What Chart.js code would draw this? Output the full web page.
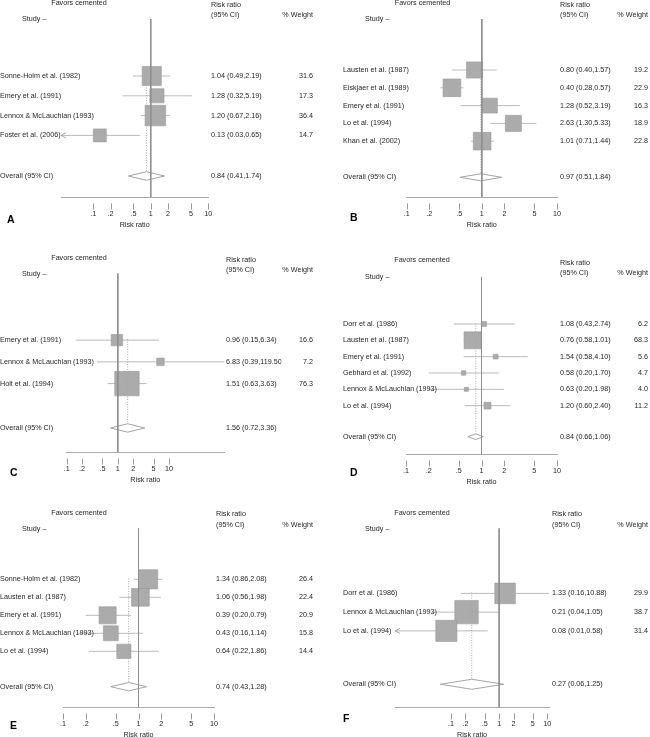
<!DOCTYPE html>
<html>
<head>
<meta charset="utf-8">
<script src="https://cdn.jsdelivr.net/npm/chart.js@4.4.0/dist/chart.umd.min.js"></script>
<style>
  body { margin: 0; background: #fff; width: 650px; height: 737px; position: relative; overflow: hidden; }
  canvas { position: absolute; }
</style>
</head>
<body>
<script>
// ---- data ----
var tickValues = [0.1, 0.2, 0.5, 1, 2, 5, 10];
var tickLabels = [".1", ".2", ".5", "1", "2", "5", "10"];

var studiesA = ["Sonne-Holm et al. (1982)", "Emery et al. (1991)", "Lennox & McLauchlan (1993)", "Foster et al. (2006)"];
var rrA = [1.04, 1.28, 1.20, 0.13];
var lowA = [0.49, 0.32, 0.67, 0.03];
var highA = [2.19, 5.19, 2.16, 0.65];
var weightA = [31.6, 17.3, 36.4, 14.7];
var overallA = [0.84, 0.41, 1.74];

var studiesB = ["Lausten et al. (1987)", "Eiskjaer et al. (1989)", "Emery et al. (1991)", "Lo et al. (1994)", "Khan et al. (2002)"];
var rrB = [0.80, 0.40, 1.28, 2.63, 1.01];
var lowB = [0.40, 0.28, 0.52, 1.30, 0.71];
var highB = [1.57, 0.57, 3.19, 5.33, 1.44];
var weightB = [19.2, 22.9, 16.3, 18.9, 22.8];
var overallB = [0.97, 0.51, 1.84];

var studiesC = ["Emery et al. (1991)", "Lennox & McLauchlan (1993)", "Holt et al. (1994)"];
var rrC = [0.96, 6.83, 1.51];
var lowC = [0.15, 0.39, 0.63];
var highC = [6.34, 119.5, 3.63];
var weightC = [16.6, 7.2, 76.3];
var overallC = [1.56, 0.72, 3.36];

var studiesD = ["Dorr et al. (1986)", "Lausten et al. (1987)", "Emery et al. (1991)", "Gebhard et al. (1992)", "Lennox & McLauchlan (1993)", "Lo et al. (1994)"];
var rrD = [1.08, 0.76, 1.54, 0.58, 0.63, 1.20];
var lowD = [0.43, 0.58, 0.58, 0.20, 0.20, 0.60];
var highD = [2.74, 1.01, 4.10, 1.70, 1.98, 2.40];
var weightD = [6.2, 68.3, 5.6, 4.7, 4.0, 11.2];
var overallD = [0.84, 0.66, 1.06];

var studiesE = ["Sonne-Holm et al. (1982)", "Lausten et al. (1987)", "Emery et al. (1991)", "Lennox & McLauchlan (1993)", "Lo et al. (1994)"];
var rrE = [1.34, 1.06, 0.39, 0.43, 0.64];
var lowE = [0.86, 0.56, 0.20, 0.16, 0.22];
var highE = [2.08, 1.98, 0.79, 1.14, 1.86];
var weightE = [26.4, 22.4, 20.9, 15.8, 14.4];
var overallE = [0.74, 0.43, 1.28];

var studiesF = ["Dorr et al. (1986)", "Lennox & McLauchlan (1993)", "Lo et al. (1994)"];
var rrF = [1.33, 0.21, 0.08];
var lowF = [0.16, 0.04, 0.01];
var highF = [10.88, 1.05, 0.58];
var weightF = [29.9, 38.7, 31.4];
var overallF = [0.27, 0.06, 1.25];

// ---- layout of the six panels (page pixels) ----
var panels = [
  { letter: "A", left: 0, top: 0, names: studiesA, rr: rrA, lo: lowA, hi: highA, w: weightA, overall: overallA,
    xMin: 0.0275, xMax: 10, axisL: 61, axisR: 208.3, lineTop: 19, axisY: 197, row0: 76, rowGap: 19.8, overallY: 176,
    boxK: 3.4, diaH: 4.3, arrows: [3], nameX: 0, headX: 79, studyX: 22, ciX: 211, wtR: 313,
    favY: 3.5, studyY: 19, rrY: 5, ciY: 15, letterX: 7, letterY: 220 },
  { letter: "B", left: 325, top: 0, names: studiesB, rr: rrB, lo: lowB, hi: highB, w: weightB, overall: overallB,
    xMin: 0.1, xMax: 10, axisL: 81.7, axisR: 232, lineTop: 19, axisY: 197, row0: 70, rowGap: 17.8, overallY: 177.3,
    boxK: 3.7, diaH: 3.5, arrows: [], nameX: 343, headX: 422.5, studyX: 365, ciX: 560, wtR: 648,
    favY: 3.5, studyY: 19, rrY: 5, ciY: 15, letterX: 350, letterY: 218 },
  { letter: "C", left: 0, top: 240, names: studiesC, rr: rrC, lo: lowC, hi: highC, w: weightC, overall: overallC,
    xMin: 0.1, xMax: 119.5, axisL: 66.7, axisR: 224, lineTop: 273.3, axisY: 451.7, row0: 340, rowGap: 21.7, overallY: 427.7,
    boxK: 2.8, diaH: 4.2, arrows: [], nameX: 0, headX: 79, studyX: 22, ciX: 226, wtR: 313,
    favY: 258, studyY: 274, rrY: 260, ciY: 269.7, letterX: 10, letterY: 473 },
  { letter: "D", left: 325, top: 240, names: studiesD, rr: rrD, lo: lowD, hi: highD, w: weightD, overall: overallD,
    xMin: 0.1, xMax: 10, axisL: 81, axisR: 232, lineTop: 276.7, axisY: 454, row0: 324, rowGap: 16.33, overallY: 436.7,
    boxK: 2.05, diaH: 2.8, arrows: [], nameX: 343, headX: 422, studyX: 365, ciX: 560, wtR: 648,
    favY: 260, studyY: 277, rrY: 262.7, ciY: 273, letterX: 350, letterY: 473 },
  { letter: "E", left: 0, top: 480, names: studiesE, rr: rrE, lo: lowE, hi: highE, w: weightE, overall: overallE,
    xMin: 0.1, xMax: 10, axisL: 63, axisR: 214, lineTop: 528.3, axisY: 707, row0: 579.3, rowGap: 18, overallY: 686.7,
    boxK: 3.75, diaH: 4.2, arrows: [], nameX: 0, headX: 79, studyX: 22, ciX: 216, wtR: 313,
    favY: 513, studyY: 529, rrY: 514.3, ciY: 524.7, letterX: 10, letterY: 726 },
  { letter: "F", left: 325, top: 480, names: studiesF, rr: rrF, lo: lowF, hi: highF, w: weightF, overall: overallF,
    xMin: 0.00685, xMax: 10.88, axisL: 70, axisR: 224, lineTop: 528.3, axisY: 706.7, row0: 593.3, rowGap: 18.7, overallY: 684,
    boxK: 3.77, diaH: 5, arrows: [2], nameX: 343, headX: 422, studyX: 365, ciX: 552, wtR: 648,
    favY: 513, studyY: 529, rrY: 514.3, ciY: 524.7, letterX: 343, letterY: 719 }
];

var FONT = "'Liberation Sans', Arial, Helvetica, sans-serif";
var TEXT = '#1e1e1e';
Chart.defaults.font.family = FONT;
Chart.defaults.font.size = 7.2;
Chart.defaults.color = TEXT;

function ciText(r, l, h) {
  return r.toFixed(2) + " (" + l.toFixed(2) + "," + h.toFixed(2) + ")";
}

function drawPanel(p) {
  var canvas = document.createElement('canvas');
  canvas.width = 325;
  canvas.height = Math.round(p.axisY - p.top + 36);
  canvas.style.left = p.left + 'px';
  canvas.style.top = p.top + 'px';
  document.body.appendChild(canvas);

  var n = p.names.length;
  function toRow(py) { return (py - p.row0) / p.rowGap; }
  var yMin = toRow(p.lineTop), yMax = toRow(p.axisY);
  var ovRow = toRow(p.overallY);
  var dh = p.diaH / p.rowGap;

  var datasets = [];
  // reference line at 1
  datasets.push({ data: [{ x: 1, y: yMin }, { x: 1, y: yMax }], showLine: true, pointRadius: 0,
    borderColor: '#8e8e8e', borderWidth: 1, order: 0 });
  // dotted line at the overall estimate
  datasets.push({ data: [{ x: p.overall[0], y: -0.05 }, { x: p.overall[0], y: ovRow - dh }], showLine: true, pointRadius: 0,
    borderColor: '#a8a8a8', borderWidth: 1, borderDash: [1, 1.5], order: 1 });
  // weighted boxes
  datasets.push({ data: p.rr.map(function (v, i) { return { x: v, y: i }; }), pointStyle: 'rect',
    pointRadius: p.w.map(function (w) { return p.boxK * Math.sqrt(w) / Math.SQRT2; }),
    backgroundColor: '#ababab', borderColor: '#9a9a9a', borderWidth: 0.6, order: 2 });
  // overall diamond
  var o = p.overall;
  datasets.push({ data: [{ x: o[1], y: ovRow }, { x: o[0], y: ovRow - dh }, { x: o[2], y: ovRow }, { x: o[0], y: ovRow + dh }, { x: o[1], y: ovRow }],
    showLine: true, pointRadius: 0, borderColor: '#a4a4a4', borderWidth: 1, order: 3 });
  // confidence intervals
  for (var i = 0; i < n; i++) {
    var lo = p.arrows.indexOf(i) >= 0 ? p.xMin : p.lo[i];
    datasets.push({ data: [{ x: lo, y: i }, { x: p.hi[i], y: i }], showLine: true, pointRadius: 0,
      borderColor: '#bbbbbb', borderWidth: 1, order: 4 });
  }

  var textPlugin = {
    id: 'forestText' + p.letter,
    afterDraw: function (chart) {
      var ctx = chart.ctx;
      var xs = chart.scales.x, ys = chart.scales.y;
      var ox = p.left, oy = p.top;
      var bottom = chart.chartArea.bottom;
      ctx.save();
      // tick marks, detached from the axis line
      ctx.strokeStyle = '#9a9a9a';
      ctx.lineWidth = 1;
      tickValues.forEach(function (v) {
        var px = Math.round(xs.getPixelForValue(v)) + 0.5;
        ctx.beginPath();
        ctx.moveTo(px, bottom + 6.5);
        ctx.lineTo(px, bottom + 12.5);
        ctx.stroke();
      });
      // arrows for truncated intervals
      ctx.strokeStyle = '#a8a8a8';
      p.arrows.forEach(function (i) {
        var tx = xs.getPixelForValue(p.xMin), ty = ys.getPixelForValue(i);
        ctx.beginPath();
        ctx.moveTo(tx + 5, ty - 2.5);
        ctx.lineTo(tx, ty);
        ctx.lineTo(tx + 5, ty + 2.5);
        ctx.stroke();
      });

      ctx.fillStyle = TEXT;
      ctx.font = "7.2px " + FONT;
      ctx.textBaseline = 'middle';
      // headers
      ctx.textAlign = 'center';
      ctx.fillText("Favors cemented", p.headX - ox, p.favY - oy);
      ctx.textAlign = 'left';
      ctx.fillText("Study \u2013", p.studyX - ox, p.studyY - oy);
      ctx.fillText("Risk ratio", p.ciX - ox, p.rrY - oy);
      ctx.fillText("(95% CI)", p.ciX - ox, p.ciY - oy);
      ctx.textAlign = 'right';
      ctx.fillText("% Weight", p.wtR - ox, p.ciY - oy);

      // rows
      for (var i = 0; i < n; i++) {
        var y = ys.getPixelForValue(i);
        ctx.textAlign = 'left';
        ctx.fillText(p.names[i], p.nameX - ox, y);
        ctx.save();
        ctx.beginPath();
        ctx.rect(p.ciX - ox, y - 6, p.wtR - 31.5 - p.ciX, 12);
        ctx.clip();
        ctx.fillText(ciText(p.rr[i], p.lo[i], p.hi[i]), p.ciX - ox, y);
        ctx.restore();
        ctx.textAlign = 'right';
        ctx.fillText(p.w[i].toFixed(1), p.wtR - ox, y);
      }
      var yo = ys.getPixelForValue(ovRow);
      ctx.textAlign = 'left';
      ctx.fillText("Overall (95% CI)", p.nameX - ox, yo);
      ctx.fillText(ciText(o[0], o[1], o[2]), p.ciX - ox, yo);

      // panel letter
      ctx.font = "bold 10.5px " + FONT;
      ctx.fillStyle = '#000';
      ctx.fillText(p.letter, p.letterX - ox, p.letterY - oy);
      ctx.restore();
    }
  };

  new Chart(canvas, {
    type: 'scatter',
    data: { datasets: datasets },
    options: {
      responsive: false,
      animation: false,
      events: [],
      layout: { padding: { left: p.axisL, right: 325 - p.axisR, top: p.lineTop - p.top, bottom: 0 } },
      plugins: { legend: { display: false }, tooltip: { enabled: false } },
      scales: {
        x: {
          type: 'logarithmic',
          min: p.xMin,
          max: p.xMax,
          afterBuildTicks: function (s) { s.ticks = tickValues.map(function (v) { return { value: v }; }); },
          afterFit: function (s) { s.height = 36; },
          grid: { display: false, drawTicks: false },
          border: { display: true, color: '#a8a8a8', width: 1 },
          ticks: { autoSkip: false, maxRotation: 0, padding: 12.3, color: TEXT,
            callback: function (v, i) { return tickLabels[i]; } },
          title: { display: true, text: 'Risk ratio', color: TEXT, padding: { top: 0, bottom: 4 } }
        },
        y: { type: 'linear', reverse: true, min: yMin, max: yMax, display: false }
      }
    },
    plugins: [textPlugin]
  });
}

panels.forEach(drawPanel);
</script>
</body>
</html>
